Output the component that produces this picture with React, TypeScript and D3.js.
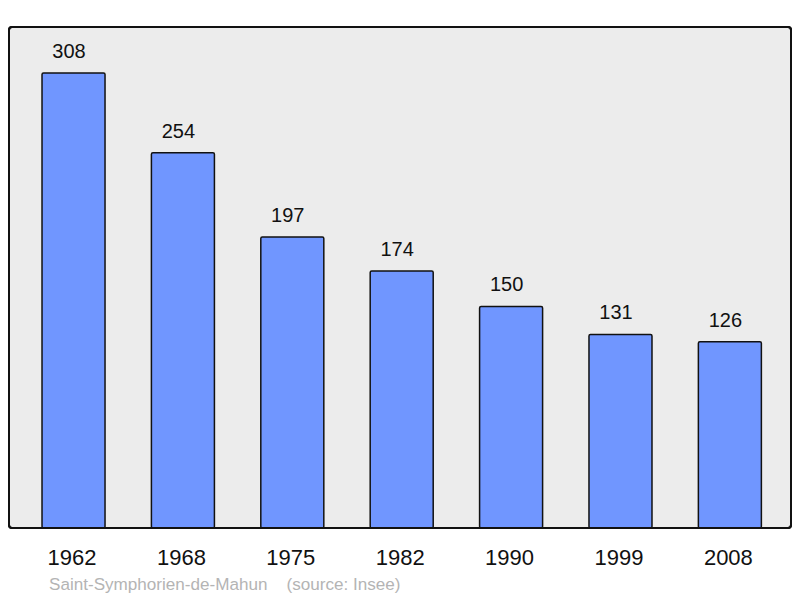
import React from "react";
import * as d3 from "d3";

const years = ["1962", "1968", "1975", "1982", "1990", "1999", "2008"];
const population = [308, 254, 197, 174, 150, 131, 126];
const sourceText = "Saint-Symphorien-de-Mahun    (source: Insee)";

export default function App() {
  const W = 800, H = 598;
  const frame = { x0: 9, y0: 27, x1: 791, y1: 528 };
  const x = d3.scaleBand<string>().domain(years).range([9.2, 794.2]).paddingInner(0.424).paddingOuter(0.3);
  const y = d3.scaleLinear().domain([0, 308]).range([528, 73]);
  const font = "'Liberation Sans', Arial, sans-serif";
  return (
    <svg width={W} height={H} style={{ position: "absolute", left: 0, top: 0 }} fontFamily={font}>
      <rect x={0} y={0} width={W} height={H} fill="#fff" />
      <rect x={frame.x0} y={frame.y0} width={frame.x1 - frame.x0} height={frame.y1 - frame.y0} rx={3} fill="#ececec" stroke="#111" strokeWidth={2} />
      {years.map((yr, i) => {
        const v = population[i];
        const bx = x(yr)!;
        const bw = x.bandwidth();
        return (
          <g key={yr}>
            <rect x={bx} y={y(v)} width={bw} height={y(0) - y(v)} fill="#7096ff" stroke="#111" strokeWidth={1.5} rx={1.5} />
            <text x={bx + bw / 2 - 4.5} y={y(v) - 15} textAnchor="middle" fontSize={20} fill="#111">{v}</text>
            <text x={bx + bw / 2 - 1.5} y={565} textAnchor="middle" fontSize={22} fill="#111">{yr}</text>
          </g>
        );
      })}
      <rect x={frame.x0} y={frame.y0} width={frame.x1 - frame.x0} height={frame.y1 - frame.y0} rx={3} fill="none" stroke="#111" strokeWidth={2} />
      <text x={49} y={590} fontSize={17.1} fill="#b4b4b4" style={{ whiteSpace: "pre" }} xmlSpace="preserve">{sourceText}</text>
    </svg>
  );
}
